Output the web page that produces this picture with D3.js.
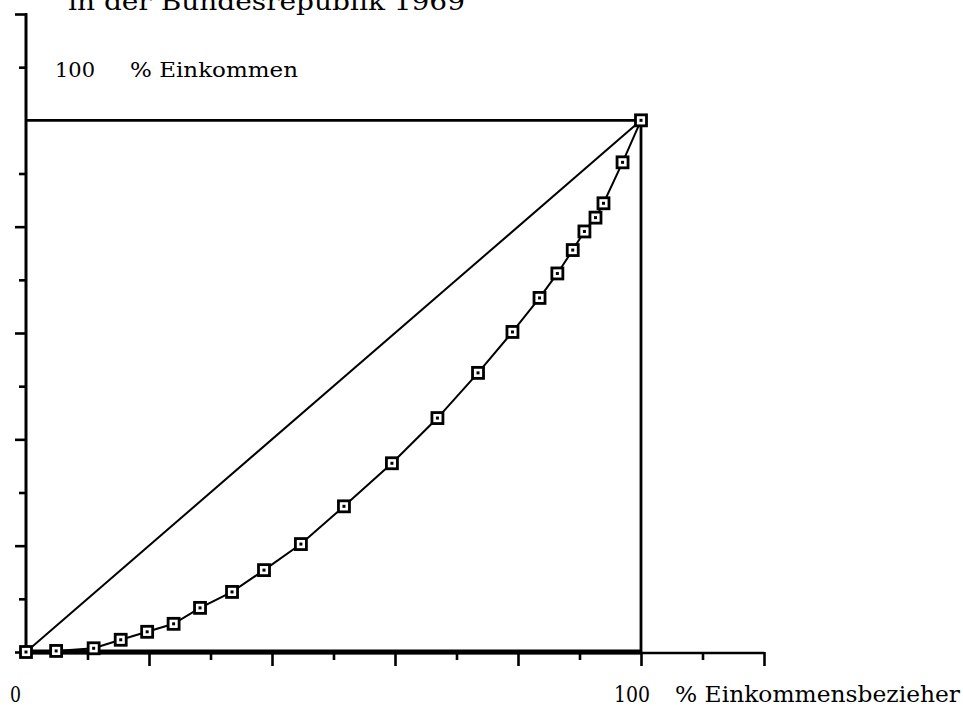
<!DOCTYPE html>
<html><head><meta charset="utf-8">
<script src="https://cdn.jsdelivr.net/npm/d3@7"></script>
<style>body{margin:0;background:#fff}svg{display:block}text{font-family:"DejaVu Serif",serif;fill:#000}</style>
</head><body>
<svg id="c" width="963" height="706"></svg>
<script>
// Lorenz curve: cumulative % of income recipients (x) vs cumulative % of income (y)
const recipientsPct = [0, 4.9, 11, 15.4, 19.7, 24, 28.3, 33.5, 38.7, 44.7, 51.7, 59.5, 66.9, 73.5, 79.1, 83.5, 86.4, 88.9, 90.8, 92.6, 93.9, 97, 100];
const incomePct     = [0, 0.2, 0.7, 2.3, 3.8, 5.3, 8.3, 11.3, 15.4, 20.3, 27.4, 35.5, 44.0, 52.5, 60.2, 66.6, 71.2, 75.6, 79.1, 81.7, 84.4, 92.1, 100];
const xMajorTicks = [20, 40, 60, 80, 100, 120];
const xMinorTicks = [10, 30, 50, 70, 90, 110];
const yMajorTicks = [0, 20, 40, 60, 80, 120];
const yMinorTicks = [10, 30, 50, 70, 90, 110];
const title = "in der Bundesrepublik 1969";
const yLabelNum = "100", yLabel = "% Einkommen";
const xLabelZero = "0", xLabelNum = "100", xLabel = "% Einkommensbezieher";

const svg = d3.select("#c");
const x = d3.scaleLinear().domain([0, 120]).range([26, 764]);
const y = d3.scaleLinear().domain([0, 120]).range([652, 14]);

// axes ticks
svg.append("g").attr("transform", `translate(${x(0)},0)`)
  .call(d3.axisLeft(y).tickValues(yMajorTicks).tickSize(11).tickFormat(""));
svg.append("g").attr("transform", `translate(${x(0)},0)`)
  .call(d3.axisLeft(y).tickValues(yMinorTicks).tickSize(7).tickFormat(""));
svg.append("g").attr("transform", `translate(0,${y(0)})`)
  .call(d3.axisBottom(x).tickValues(xMajorTicks).tickSize(14).tickFormat(""));
svg.append("g").attr("transform", `translate(0,${y(0)})`)
  .call(d3.axisBottom(x).tickValues(xMinorTicks).tickSize(8).tickFormat(""));
svg.selectAll(".domain").remove();
svg.selectAll(".tick line").attr("stroke", "#000").attr("stroke-width", 2.6);

// axis lines
svg.append("line").attr("x1", x(0)).attr("x2", x(0)).attr("y1", y(120) - 1).attr("y2", y(0) + 3)
  .attr("stroke", "#000").attr("stroke-width", 3);
svg.append("line").attr("x1", x(0)).attr("x2", x(120)).attr("y1", y(0) + 1).attr("y2", y(0) + 1)
  .attr("stroke", "#000").attr("stroke-width", 2.6);
// thick bottom (perfect inequality) line
svg.append("line").attr("x1", x(0)).attr("x2", x(100)).attr("y1", y(0)).attr("y2", y(0))
  .attr("stroke", "#000").attr("stroke-width", 5);
// square: top and right edges
svg.append("line").attr("x1", x(0)).attr("x2", x(100)).attr("y1", y(100)).attr("y2", y(100))
  .attr("stroke", "#000").attr("stroke-width", 2.6);
svg.append("line").attr("x1", x(100)).attr("x2", x(100)).attr("y1", y(100)).attr("y2", y(0) + 2)
  .attr("stroke", "#000").attr("stroke-width", 2.8);
// equality diagonal
svg.append("line").attr("x1", x(0)).attr("x2", x(100)).attr("y1", y(0)).attr("y2", y(100))
  .attr("stroke", "#000").attr("stroke-width", 2);

// Lorenz curve
const pts = recipientsPct.map((v, i) => [v, incomePct[i]]);
svg.append("path").datum(pts)
  .attr("d", d3.line().x(d => x(d[0])).y(d => y(d[1])))
  .attr("fill", "none").attr("stroke", "#000").attr("stroke-width", 2);
const m = svg.append("g").selectAll("g").data(pts).join("g")
  .attr("transform", d => `translate(${x(d[0])},${y(d[1])})`);
m.append("rect").attr("x", -5.5).attr("y", -5.5).attr("width", 11).attr("height", 11)
  .attr("fill", "#fff").attr("stroke", "#000").attr("stroke-width", 2.8);
m.append("rect").attr("x", -1.5).attr("y", -1.5).attr("width", 3).attr("height", 3).attr("fill", "#000");

// texts
svg.append("text").attr("x", 68).attr("y", 10).attr("font-size", 25)
  .attr("textLength", 397).attr("lengthAdjust", "spacingAndGlyphs").text(title);
svg.append("text").attr("x", 55).attr("y", 77).attr("font-size", 21)
  .attr("textLength", 40).attr("lengthAdjust", "spacingAndGlyphs").text(yLabelNum);
svg.append("text").attr("x", 130).attr("y", 77).attr("font-size", 21)
  .attr("textLength", 168).attr("lengthAdjust", "spacingAndGlyphs").text(yLabel);
svg.append("text").attr("x", 10).attr("y", 702).attr("font-size", 23)
  .attr("textLength", 11).attr("lengthAdjust", "spacingAndGlyphs").text(xLabelZero);
svg.append("text").attr("x", 614).attr("y", 702).attr("font-size", 23)
  .attr("textLength", 36).attr("lengthAdjust", "spacingAndGlyphs").text(xLabelNum);
svg.append("text").attr("x", 675).attr("y", 702).attr("font-size", 23)
  .attr("textLength", 285).attr("lengthAdjust", "spacingAndGlyphs").text(xLabel);
</script>
</body></html>
